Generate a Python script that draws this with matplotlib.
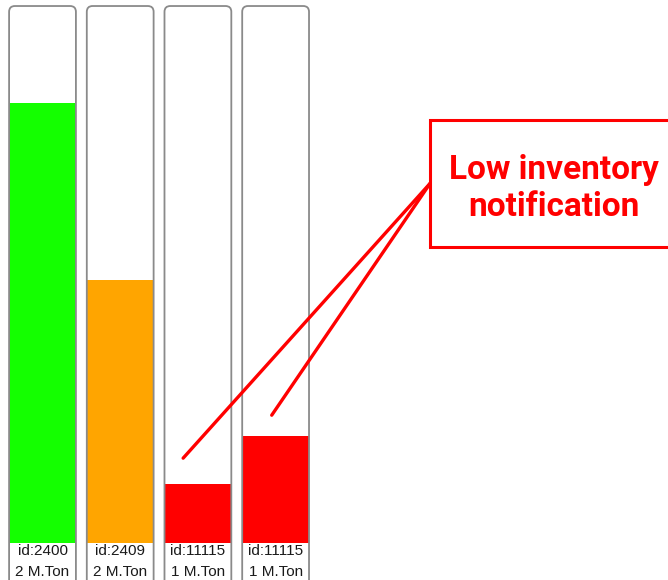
import matplotlib
matplotlib.use('Agg')
import matplotlib.pyplot as plt
from matplotlib.patches import FancyBboxPatch, Rectangle

# tank data
tank_ids = ['id:2400', 'id:2409', 'id:11115', 'id:11115']
capacity = ['2 M.Ton', '2 M.Ton', '1 M.Ton', '1 M.Ton']
fill_pct = [82, 49, 11, 20]
fill_colors = ['#14ff00', '#ffa500', '#ff0000', '#ff0000']

note_text = 'Low inventory\nnotification'
note_targets = [(1.81, 15.8), (2.95, 23.8)]   # where the note lines point
note_origin = (4.99, 67.0)

W, H = 668, 580
fig = plt.figure(figsize=(W / 100, H / 100), dpi=100)
ax = fig.add_axes([0, 0, 1, 1])
ax.set_xlim(-0.547, 8.05)
ax.set_ylim(-6.89, 101.12)
ax.axis('off')

bw = 0.86
xs = list(range(len(tank_ids)))

# fills
ax.bar(xs, fill_pct, width=bw, color=fill_colors, bottom=0, zorder=2)

# tank outlines (rounded top corners, bottom runs off the figure)
px_x = 77.7
px_y = 5.37
for x in xs:
    box = FancyBboxPatch((x - bw / 2, -15), bw, 115,
                         boxstyle='round,pad=0,rounding_size=0.075',
                         mutation_aspect=px_x / px_y,
                         fc='none', ec='#8a8a8a', lw=1.3, zorder=3)
    ax.add_patch(box)

# labels under each tank
for x, t, c in zip(xs, tank_ids, capacity):
    ax.text(x, -1.5, t, ha='center', va='center', fontsize=11,
            color='#1a1a1a', family=['Liberation Sans', 'DejaVu Sans'])
    ax.text(x, -5.4, c, ha='center', va='center', fontsize=11,
            color='#1a1a1a', family=['Liberation Sans', 'DejaVu Sans'])

# notification box
ax.add_patch(Rectangle((note_origin[0], 55.1), 3.5, 23.7, fc='white',
                       ec='#ff0000', lw=2.2, zorder=4))
ax.text(6.58, 66.0, note_text, ha='center', va='center', fontsize=24,
        fontweight='bold', color='#ff0000', linespacing=1.2, zorder=5,
        family=['Roboto', 'DejaVu Sans'])

for tx, ty in note_targets:
    ax.annotate('', xy=(tx, ty), xytext=note_origin,
                arrowprops=dict(arrowstyle='-', color='#ff0000', lw=2.4,
                                shrinkA=0, shrinkB=0), zorder=4)

fig.savefig('out.png', dpi=100)
